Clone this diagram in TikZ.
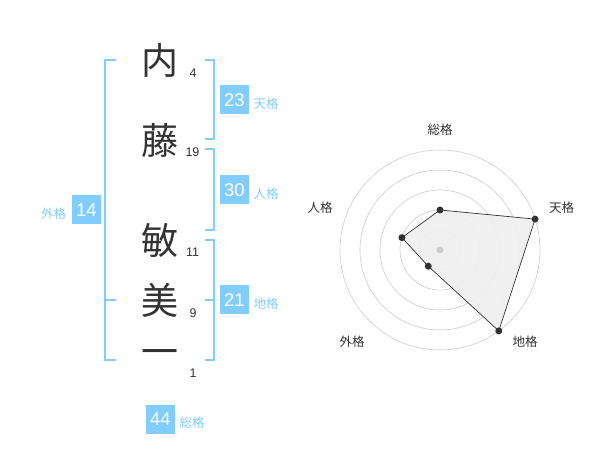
\documentclass[tikz,border=0pt]{standalone}
\usepackage{fontspec}
\setmainfont{Liberation Sans}
\newfontfamily\jp{Noto Sans CJK JP}
\definecolor{kblue}{HTML}{82CDFF}
\definecolor{ink}{HTML}{333333}
\definecolor{ringgray}{HTML}{CCCCCC}
\definecolor{areafill}{HTML}{EFEFEF}
\begin{document}
\begin{tikzpicture}[x=1pt,y=-1pt,
  kanji/.style={font=\jp\fontsize{37}{37}\selectfont, text=ink, inner sep=0pt},
  strokes/.style={font=\fontsize{12.5}{12.5}\selectfont, text=ink, inner sep=0pt},
  numbox/.style={fill=kblue, text=white, minimum width=29pt, minimum height=29pt, inner sep=0pt, font=\fontsize{18.5}{18.5}\selectfont},
  kaku/.style={text=kblue, font=\jp\fontsize{12.5}{12.5}\selectfont, inner sep=0pt},
  brk/.style={draw=kblue, line width=2pt},
  ring/.style={draw=ringgray, line width=0.6pt},
  dot/.style={circle, fill=ink, inner sep=0pt, minimum size=7pt},
  axislabel/.style={text=ink, font=\jp\fontsize{12.5}{12.5}\selectfont, inner sep=0pt}]
\useasboundingbox (0,0) rectangle (600,470);
\fill[white] (0,0) rectangle (600,470);

% name characters
\node[kanji] (c1) at (160,60) {内};
\node[kanji] (c2) at (160,140) {藤};
\node[kanji] (c3) at (160,240) {敏};
\node[kanji] (c4) at (160,300) {美};
\node[kanji] (c5) at (160,358) {一};

\node[strokes] (n1) at (193,73) {4};
\node[strokes] (n2) at (192.5,152.5) {19};
\node[strokes] (n3) at (192.5,252.5) {11};
\node[strokes] (n4) at (193,313) {9};
\node[strokes] (n5) at (193,373) {1};

% brackets
\draw[brk] (116,60) -- (105,60) -- (105,360) -- (116,360);
\draw[brk] (105,300) -- (116,300);
\draw[brk] (205,60) -- (214,60) -- (214,139) -- (205,139);
\draw[brk] (205,149) -- (214,149) -- (214,230) -- (205,230);
\draw[brk] (205,240) -- (214,240) -- (214,360) -- (205,360);
\draw[brk] (205,300) -- (214,300);

% boxes
\node[numbox] (b23) at (234.5,100) {23};
\node[kaku, anchor=west] (l23) at (253.5,104) {天格};
\node[numbox] (b30) at (234.5,190) {30};
\node[kaku, anchor=west] (l30) at (253.5,194) {人格};
\node[numbox] (b21) at (234.5,300) {21};
\node[kaku, anchor=west] (l21) at (253.5,304) {地格};
\node[numbox] (b14) at (86.5,210) {14};
\node[kaku] (l14) at (53.5,214) {外格};
\node[numbox] (b44) at (160.5,419.5) {44};
\node[kaku] (l44) at (192,422.5) {総格};

% radar chart
\begin{scope}[shift={(440,250)}, y=1pt]
  \foreach \r in {20,40,60,80,100} \draw[ring] (0,0) circle[radius=\r];
  \coordinate (pS) at (90:40);
  \coordinate (pT) at (18:100);
  \coordinate (pC) at (-54:100);
  \coordinate (pG) at (-126:20);
  \coordinate (pJ) at (162:40);
  \fill[areafill, fill opacity=0.9] (pS) -- (pT) -- (pC) -- (pG) -- (pJ) -- cycle;
  \draw[ink, line width=0.7pt] (pS) -- (pT) -- (pC) -- (pG) -- (pJ) -- cycle;
  \node[circle, fill=ringgray, inner sep=0pt, minimum size=7pt] (ctr) at (0,0) {};
  \node[dot] (dS) at (pS) {};
  \node[dot] (dT) at (pT) {};
  \node[dot] (dC) at (pC) {};
  \node[dot] (dG) at (pG) {};
  \node[dot] (dJ) at (pJ) {};
\end{scope}
\node[axislabel] (aS) at (440,130) {総格};
\node[axislabel] (aT) at (561.5,208) {天格};
\node[axislabel] (aC) at (525,342) {地格};
\node[axislabel] (aG) at (352,342) {外格};
\node[axislabel] (aJ) at (320,208) {人格};
\end{tikzpicture}
\end{document}
